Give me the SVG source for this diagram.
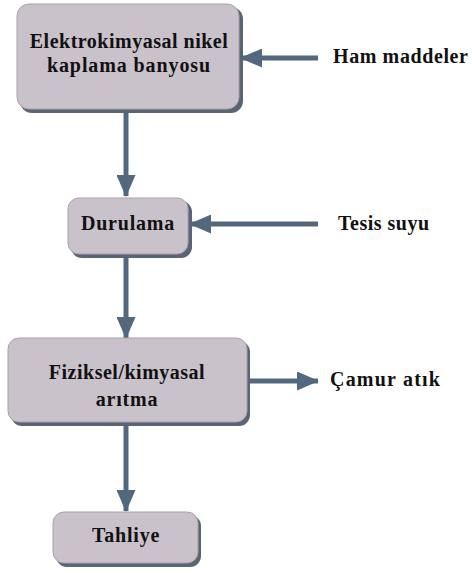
<svg xmlns="http://www.w3.org/2000/svg" width="472" height="573" viewBox="0 0 472 573">
  <style>
    .box { fill: #cac2cb; stroke: #a7a2ab; stroke-width: 1; }
    .shadow { fill: #5b6474; }
    .lbl { text-anchor: middle; }
    .conn { stroke: #51687f; stroke-width: 5; fill: none; marker-end: url(#head); }
  </style>
  <defs>
    <marker id="head" viewBox="0 0 22 19" refX="21" refY="9.5" markerWidth="22" markerHeight="19" markerUnits="userSpaceOnUse" orient="auto">
      <path d="M0,0 L22,9.5 L0,19 Z" fill="#51687f"/>
    </marker>
  </defs>

  <rect width="472" height="573" fill="#ffffff"/>

  <!-- connectors -->
  <g id="connectors">
    <line class="conn" x1="126" y1="110" x2="126" y2="196"/>
    <line class="conn" x1="318" y1="58" x2="241" y2="58"/>
    <line class="conn" x1="318" y1="224" x2="190" y2="224"/>
    <line class="conn" x1="126" y1="256" x2="126" y2="338"/>
    <line class="conn" x1="248" y1="381" x2="318" y2="381"/>
    <line class="conn" x1="126" y1="424" x2="126" y2="511"/>
  </g>

  <g font-family="'Liberation Serif', serif" font-weight="bold" font-size="20" fill="#111111">
    <!-- process boxes -->
    <g id="node-bath">
      <rect class="shadow" x="20" y="7" width="223" height="106" rx="12"/>
      <rect class="box" x="17" y="4" width="222" height="105" rx="12"/>
      <text class="lbl" x="129" y="48" letter-spacing="0.5">Elektrokimyasal nikel</text>
      <text class="lbl" x="129" y="72" letter-spacing="0.9">kaplama banyosu</text>
    </g>

    <g id="node-rinse">
      <rect class="shadow" x="71" y="201" width="121" height="57" rx="11"/>
      <rect class="box" x="68" y="198" width="120" height="56" rx="11"/>
      <text class="lbl" x="128" y="230" letter-spacing="0.8">Durulama</text>
    </g>

    <g id="node-treatment">
      <rect class="shadow" x="11" y="341" width="239" height="85" rx="11"/>
      <rect class="box" x="8" y="338" width="239" height="84" rx="11"/>
      <text class="lbl" x="127" y="379" letter-spacing="0.5">Fiziksel/kimyasal</text>
      <text class="lbl" x="127" y="406" letter-spacing="0.8">arıtma</text>
    </g>

    <g id="node-discharge">
      <rect class="shadow" x="56" y="515" width="145" height="52" rx="11"/>
      <rect class="box" x="53" y="512" width="145" height="51" rx="11"/>
      <text class="lbl" x="126" y="542" letter-spacing="0.8">Tahliye</text>
    </g>

    <!-- side inputs / outputs -->
    <g id="node-raw">
      <text x="333" y="63" letter-spacing="0.6">Ham maddeler</text>
    </g>
    <g id="node-water">
      <text x="338" y="230" letter-spacing="0.5">Tesis suyu</text>
    </g>
    <g id="node-sludge">
      <text x="330" y="386" letter-spacing="1.2">Çamur atık</text>
    </g>
  </g>
</svg>
